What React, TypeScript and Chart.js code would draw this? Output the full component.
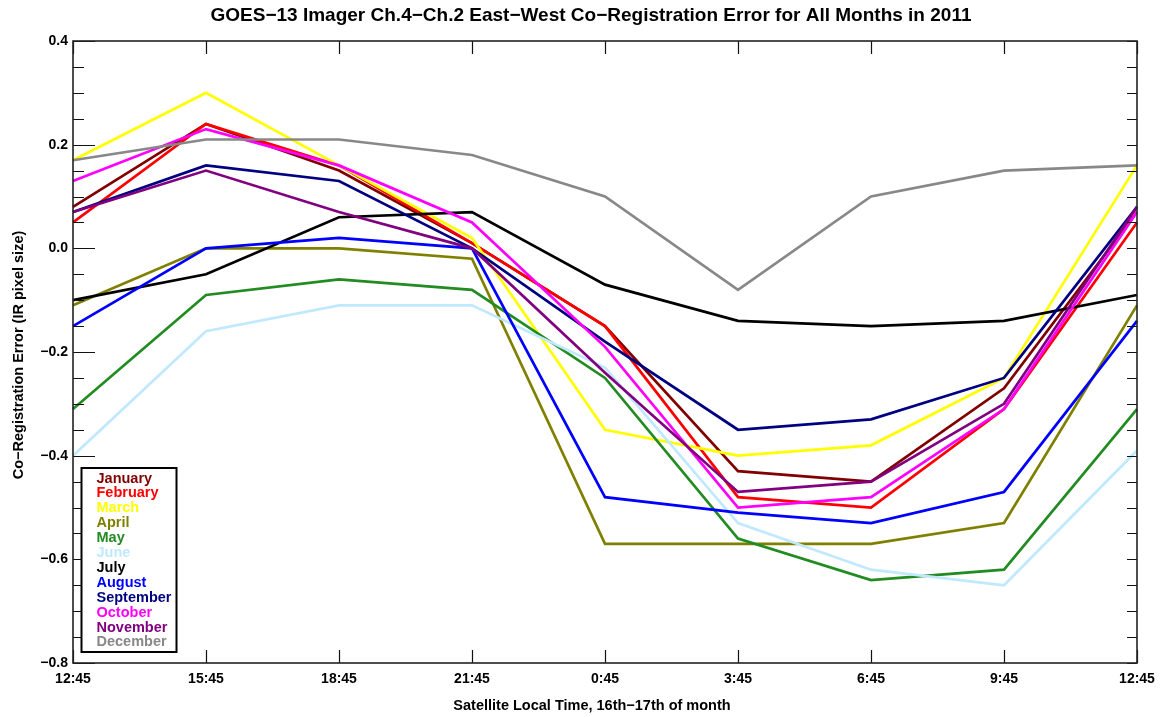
import { useEffect, useRef } from 'react';
import { Chart, registerables } from 'chart.js';

Chart.register(...registerables);

const FONT = '"Liberation Sans", Arial, Helvetica, sans-serif';

const categories = ['12:45', '15:45', '18:45', '21:45', '0:45', '3:45', '6:45', '9:45', '12:45'];

const january = [0.08, 0.24, 0.15, 0.01, -0.15, -0.43, -0.45, -0.27, 0.07];
const february = [0.05, 0.24, 0.16, 0.01, -0.15, -0.48, -0.5, -0.31, 0.05];
const march = [0.17, 0.3, 0.16, 0.02, -0.35, -0.4, -0.38, -0.25, 0.16];
const april = [-0.11, 0.0, 0.0, -0.02, -0.57, -0.57, -0.57, -0.53, -0.11];
const may = [-0.31, -0.09, -0.06, -0.08, -0.25, -0.56, -0.64, -0.62, -0.31];
const june = [-0.4, -0.16, -0.11, -0.11, -0.23, -0.53, -0.62, -0.65, -0.39];
const july = [-0.1, -0.05, 0.06, 0.07, -0.07, -0.14, -0.15, -0.14, -0.09];
const august = [-0.15, 0.0, 0.02, 0.0, -0.48, -0.51, -0.53, -0.47, -0.14];
const september = [0.07, 0.16, 0.13, 0.0, -0.18, -0.35, -0.33, -0.25, 0.08];
const october = [0.13, 0.23, 0.16, 0.05, -0.19, -0.5, -0.48, -0.31, 0.07];
const november = [0.07, 0.15, 0.07, 0.0, -0.24, -0.47, -0.45, -0.3, 0.08];
const december = [0.17, 0.21, 0.21, 0.18, 0.1, -0.08, 0.1, 0.15, 0.16];

const monthNames = ['January', 'February', 'March', 'April', 'May', 'June', 'July', 'August', 'September', 'October', 'November', 'December'];
const monthColors = ['#800000', '#ff0000', '#ffff00', '#808000', '#228b22', '#c0e8ff', '#000000', '#0000ff', '#000080', '#ff00ff', '#800080', '#888888'];
const monthValues = [january, february, march, april, may, june, july, august, september, october, november, december];

const yMin = -0.8;
const yMax = 0.4;
const yMinorStep = 0.05;
const yMajorStep = 0.2;

const titleText = 'GOES\u221213 Imager Ch.4\u2212Ch.2 East\u2212West Co\u2212Registration Error for All Months in 2011';
const xTitleText = 'Satellite Local Time, 16th\u221217th of month';
const yTitleText = 'Co\u2212Registration Error (IR pixel size)';

const isMajor = (v: number) => Math.abs(v / yMajorStep - Math.round(v / yMajorStep)) < 1e-6;

const framePlugin = {
  id: 'frame',
  afterDatasetsDraw(chart: any) {
    const { ctx, chartArea: a, scales } = chart;
    const y = scales.y;
    const x = scales.x;
    ctx.save();
    ctx.strokeStyle = '#111';
    ctx.lineWidth = 1.2;
    y.ticks.forEach((t: any) => {
      const py = Math.round(y.getPixelForValue(t.value)) + 0.5;
      const len = isMajor(t.value) ? 22 : 11;
      ctx.beginPath();
      ctx.moveTo(a.left, py);
      ctx.lineTo(a.left + len, py);
      ctx.moveTo(a.right, py);
      ctx.lineTo(a.right - 10, py);
      ctx.stroke();
    });
    x.ticks.forEach((_t: any, i: number) => {
      const px = Math.round(x.getPixelForTick(i)) + 0.5;
      ctx.beginPath();
      ctx.moveTo(px, a.bottom);
      ctx.lineTo(px, a.bottom - 13);
      ctx.moveTo(px, a.top);
      ctx.lineTo(px, a.top + 13);
      ctx.stroke();
    });
    ctx.lineWidth = 1.6;
    ctx.strokeStyle = '#222';
    ctx.strokeRect(a.left, a.top, a.right - a.left, a.bottom - a.top);
    ctx.restore();
  },
};

const legendPlugin = {
  id: 'boxLegend',
  afterDraw(chart: any) {
    const { ctx, chartArea: a } = chart;
    const boxLeft = a.left + 8.5;
    const boxTop = a.bottom - 195;
    const boxW = 95;
    const boxH = 184;
    ctx.save();
    ctx.fillStyle = '#fff';
    ctx.fillRect(boxLeft, boxTop, boxW, boxH);
    ctx.lineWidth = 2;
    ctx.strokeStyle = '#000';
    ctx.strokeRect(boxLeft, boxTop, boxW, boxH);
    ctx.font = `bold 14.5px ${FONT}`;
    ctx.textBaseline = 'alphabetic';
    ctx.textAlign = 'left';
    chart.data.datasets.forEach((ds: any, i: number) => {
      ctx.fillStyle = ds.borderColor;
      ctx.fillText(ds.label, boxLeft + 15, boxTop + 14.5 + i * 14.9);
    });
    ctx.restore();
  },
};

const titlesPlugin = {
  id: 'titles',
  afterDraw(chart: any) {
    const { ctx } = chart;
    ctx.save();
    ctx.fillStyle = '#000';
    ctx.textAlign = 'center';
    ctx.textBaseline = 'alphabetic';
    ctx.font = `bold 19px ${FONT}`;
    ctx.fillText(titleText, 591, 21);
    ctx.font = `bold 14.5px ${FONT}`;
    ctx.fillText(xTitleText, 592, 710);
    ctx.translate(23, 355);
    ctx.rotate(-Math.PI / 2);
    ctx.fillText(yTitleText, 0, 0);
    ctx.restore();
  },
};

export default function App() {
  const ref = useRef<HTMLCanvasElement | null>(null);
  useEffect(() => {
    document.body.style.margin = '0';
    const canvas = ref.current;
    if (!canvas) return;
    const chart = new Chart(canvas, {
      type: 'line',
      data: {
        labels: categories,
        datasets: monthNames.map((name, i) => ({
          label: name,
          data: monthValues[i],
          borderColor: monthColors[i],
          backgroundColor: monthColors[i],
          borderWidth: 2.7,
          pointRadius: 0,
          tension: 0,
          fill: false,
          order: monthNames.length - i,
        })),
      },
      options: {
        responsive: false,
        animation: false,
        layout: { padding: { top: 41, right: 26, left: 0, bottom: 0 } },
        plugins: {
          legend: { display: false },
          title: { display: false },
          tooltip: { enabled: false },
        },
        scales: {
          x: {
            type: 'category',
            offset: false,
            grid: { display: false, drawTicks: false },
            border: { display: false },
            ticks: {
              autoSkip: false,
              maxRotation: 0,
              color: '#000',
              padding: 8,
              font: { family: FONT, size: 14, weight: 'bold' },
            },
            afterFit: (s: any) => {
              s.height = 54;
            },
          },
          y: {
            min: yMin,
            max: yMax,
            grid: { display: false, drawTicks: false },
            border: { display: false },
            ticks: {
              stepSize: yMinorStep,
              autoSkip: false,
              color: '#000',
              padding: 5,
              font: { family: FONT, size: 14, weight: 'bold' },
              callback: (v: any) => {
                const n = Number(v);
                if (!isMajor(n)) return '';
                const r = Math.round(n * 10) / 10;
                const s = Math.abs(r).toFixed(1);
                return r < 0 ? '\u2212' + s : s;
              },
            },
            afterFit: (s: any) => {
              s.width = 73;
            },
          },
        },
      },
      plugins: [framePlugin, legendPlugin, titlesPlugin],
    });
    return () => chart.destroy();
  }, []);
  return (
    <div style={{ width: 1163, height: 717, background: '#fff' }}>
      <canvas ref={ref} width={1163} height={717} style={{ display: 'block' }} />
    </div>
  );
}
